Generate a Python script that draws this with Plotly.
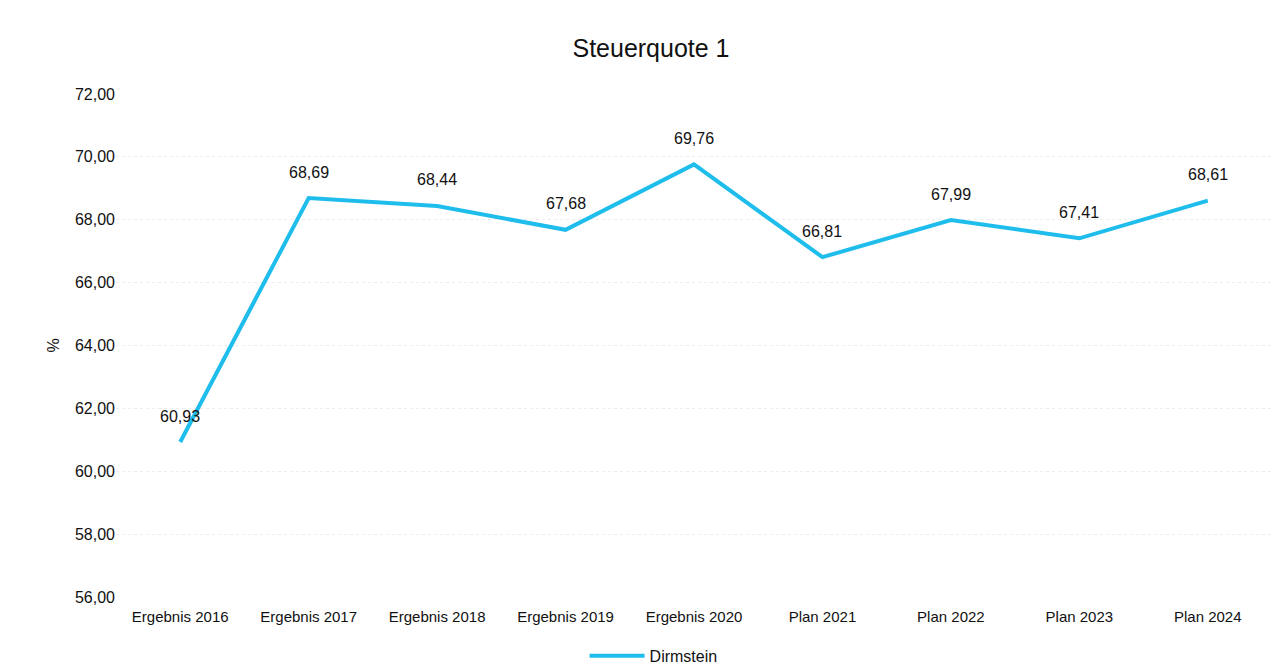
import plotly.graph_objects as go

categories = ["Ergebnis 2016", "Ergebnis 2017", "Ergebnis 2018", "Ergebnis 2019", "Ergebnis 2020",
              "Plan 2021", "Plan 2022", "Plan 2023", "Plan 2024"]
values = [60.93, 68.69, 68.44, 67.68, 69.76, 66.81, 67.99, 67.41, 68.61]
series_name = "Dirmstein"
title = "Steuerquote 1"
y_title = "%"

font_family = "Liberation Sans, Arial, sans-serif"
line_color = "#1fbdec"

fig = go.Figure()
fig.add_trace(go.Scatter(
    x=categories, y=values, mode="lines", name=series_name,
    line=dict(color=line_color, width=4),
))

for c, v in zip(categories, values):
    fig.add_annotation(x=c, y=v, text=f"{v:.2f}".replace(".", ","), showarrow=False,
                       yshift=26, font=dict(size=16, color="#111111", family=font_family))

fig.update_layout(
    width=1286, height=665,
    paper_bgcolor="white", plot_bgcolor="white",
    separators=",.",
    margin=dict(l=108, r=22, t=86, b=76, autoexpand=False),
    title=dict(text=title, x=0.5, xanchor="center", y=0.94, yanchor="middle",
               font=dict(size=25, color="#111111", family=font_family)),
    font=dict(family=font_family, color="#111111", size=15),
    showlegend=True,
    legend=dict(orientation="h", xref="container", x=0.502, xanchor="center",
                y=-0.117, yanchor="middle", itemwidth=55,
                font=dict(size=16, color="#111111")),
    xaxis=dict(showgrid=False, showline=False, ticks="", tickfont=dict(size=15),
               ticklabelstandoff=9, range=[-0.5, len(categories) - 0.5]),
    yaxis=dict(range=[56, 72], dtick=2, tickformat=".2f", showgrid=True,
               gridcolor="#ececec", gridwidth=1, griddash="dot", zeroline=False,
               ticks="", ticklen=0, tickfont=dict(size=16),
               title=dict(text=y_title, font=dict(size=16), standoff=11)),
)

fig.write_html("out.html")
